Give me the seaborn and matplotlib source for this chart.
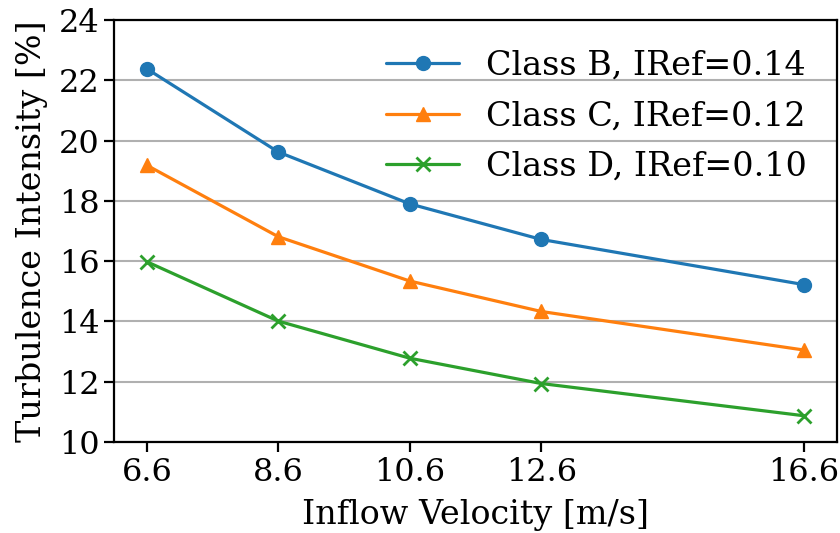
import matplotlib
matplotlib.use("Agg")
import matplotlib.pyplot as plt
import seaborn as sns
import pandas as pd

velocity = [6.6, 8.6, 10.6, 12.6, 16.6]
class_b = [22.38, 19.62, 17.90, 16.72, 15.22]
class_c = [19.18, 16.81, 15.34, 14.33, 13.05]
class_d = [15.98, 14.01, 12.78, 11.94, 10.87]
labels = ["Class B, IRef=0.14", "Class C, IRef=0.12", "Class D, IRef=0.10"]
x_ticks = [6.6, 8.6, 10.6, 12.6, 16.6]
y_ticks = [10, 12, 14, 16, 18, 20, 22, 24]

sns.set_style("white")
plt.rcParams['font.family'] = ['DejaVu Serif']
plt.rcParams['mathtext.fontset'] = 'dejavuserif'
plt.rcParams['text.color'] = 'black'
plt.rcParams['axes.labelcolor'] = 'black'
plt.rcParams['xtick.color'] = 'black'
plt.rcParams['ytick.color'] = 'black'

rows = []
for lab, vals in zip(labels, [class_b, class_c, class_d]):
    for v, t in zip(velocity, vals):
        rows.append({"v": v, "ti": t, "series": lab})
df = pd.DataFrame(rows)

fig = plt.figure(figsize=(8.4, 5.33), dpi=100)
ax = fig.add_axes([114/840, 1-442/533, (837-114)/840, (442-20)/533])
palette = ["#1f77b4", "#ff7f0e", "#2ca02c"]
markers = ["o", "^", "x"]
for lab, col, mk in zip(labels, palette, markers):
    sub = df[df.series == lab]
    sns.lineplot(data=sub, x="v", y="ti", ax=ax, color=col, marker=mk,
                 markersize=10, linewidth=2.3, label=lab,
                 markeredgecolor=col, markeredgewidth=2 if mk == "x" else 1)

ax.set_ylim(10, 24)
ax.set_xlim(6.1, 17.1)
ax.set_xticks(x_ticks)
ax.set_xticklabels([str(t) for t in x_ticks])
ax.set_yticks(y_ticks)
ax.yaxis.grid(True, color="#b0b0b0", linewidth=1.5)
ax.xaxis.grid(False)
for s in ax.spines.values():
    s.set_color("black")
    s.set_linewidth(1.6)
ax.tick_params(axis="both", labelsize=23, length=7, width=1.6, color="black",
               labelcolor="black", direction="out", bottom=True, left=True)
ax.set_xlabel("Inflow Velocity [m/s]", fontsize=24, color="black", labelpad=8)
ax.set_ylabel("Turbulence Intensity [%]", fontsize=24, color="black", labelpad=7.5)
ax.legend(loc="upper right", frameon=False, fontsize=24, handlelength=2.2,
          borderaxespad=0.5, labelspacing=0.55)
fig.savefig("out.png", dpi=100)
